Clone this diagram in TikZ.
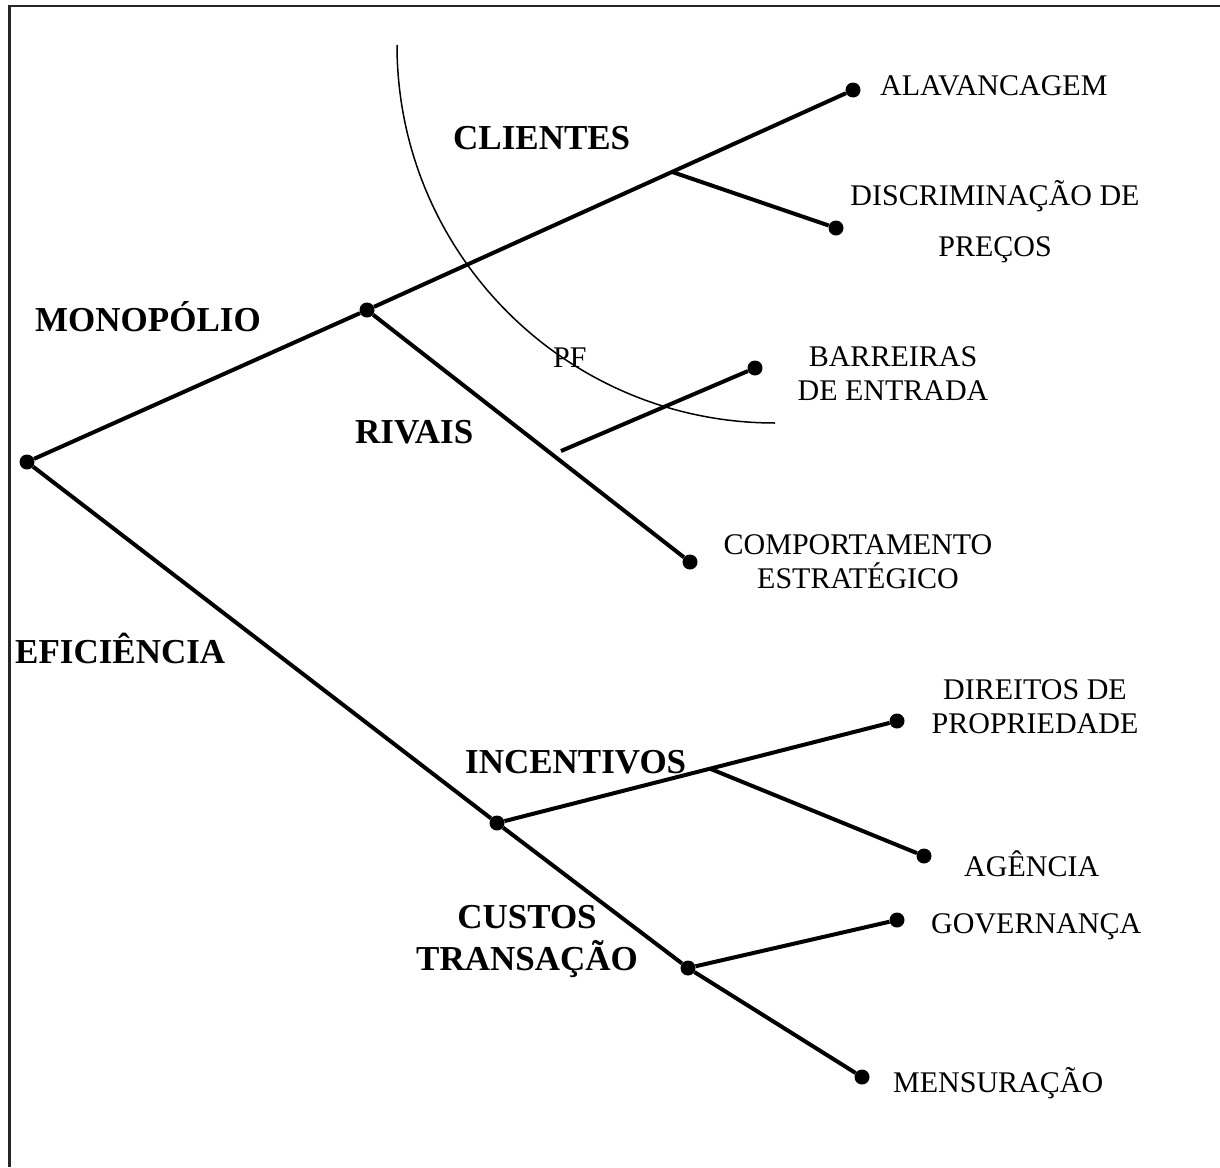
\documentclass[tikz,border=0pt]{standalone}
\usepackage{fontspec}
\setmainfont{Liberation Serif}
\usepackage{tikz}
\usetikzlibrary{calc}

\begin{document}
\begin{tikzpicture}[x=1pt, y=-1pt,
    dot/.style={circle, fill=black, inner sep=0pt, minimum size=15pt},
    branch/.style={line width=4pt},
    lbl/.style={inner sep=0pt, anchor=west, text height=20pt, text depth=0pt, font=\fontsize{30}{34}\selectfont},
    blbl/.style={inner sep=0pt, anchor=west, text height=23.5pt, text depth=0pt, font=\fontsize{35}{42}\selectfont\bfseries},
    mlbl/.style={inner sep=0pt, align=center, font=\fontsize{30}{34}\selectfont}]
    \useasboundingbox (0,0) rectangle (1220,1167);

    % Frame
    \draw[line width=2.2pt, black!85] (9.5,1167) -- (9.5,6) -- (1220,6);

    % Dots
    \foreach \name/\x/\y in {root/27/462, mono/367/310, alav/853/90, disc/836/228,
        barr/755/368, comp/690/562, incen/497/823, dir/897/721, agen/924/856,
        cust/688/968, gov/897/920, mens/862/1077}
        \node[dot] (\name) at (\x,\y) {};

    % Junctions
    \coordinate (cjunc) at ($(mono)!0.6276!(alav)$);
    \coordinate (ijunc) at ($(incen)!0.5325!(dir)$);
    \coordinate (bstart) at (561,451);

    % Monopolio branch
    \draw[branch] (root) -- (mono) -- (alav);
    \draw[branch] (cjunc) -- (disc);
    \draw[branch] (mono) -- (comp);
    \draw[branch] (bstart) -- (barr);

    % Eficiencia branch
    \draw[branch] (root) -- (incen) -- (cust) -- (mens);
    \draw[branch] (incen) -- (dir);
    \draw[branch] (ijunc) -- (agen);
    \draw[branch] (cust) -- (gov);

    % Arc
    \draw[line width=1.5pt] (397,45) arc[start angle=180, end angle=90, radius=378];

    % Labels
    \node[lbl] (alavT) at (880,85) {ALAVANCAGEM};
    \node[blbl] (clientes) at (453,138) {CLIENTES};
    \node[mlbl] (discT) at (995,222) {DISCRIMINAÇÃO DE\\[17pt]PREÇOS};
    \node[blbl] (monop) at (35,320) {MONOPÓLIO};
    \node[lbl] (pf) at (553,357) {PF};
    \node[mlbl] (barrT) at (893,374) {BARREIRAS\\DE ENTRADA};
    \node[blbl] (rivais) at (355,432) {RIVAIS};
    \node[mlbl] (compT) at (858,562) {COMPORTAMENTO\\ESTRATÉGICO};
    \node[blbl] (efic) at (15,652) {EFICIÊNCIA};
    \node[mlbl] (dirT) at (1035,707) {DIREITOS DE\\PROPRIEDADE};
    \node[blbl] (incT) at (465,762) {INCENTIVOS};
    \node[lbl] (agenT) at (964,866) {AGÊNCIA};
    \node[mlbl, font=\fontsize{35}{42}\selectfont\bfseries] (custT) at (527,942) {CUSTOS\\TRANSAÇÃO};
    \node[lbl] (govT) at (931,923) {GOVERNANÇA};
    \node[lbl] (mensT) at (893,1082) {MENSURAÇÃO};
\end{tikzpicture}
\end{document}
